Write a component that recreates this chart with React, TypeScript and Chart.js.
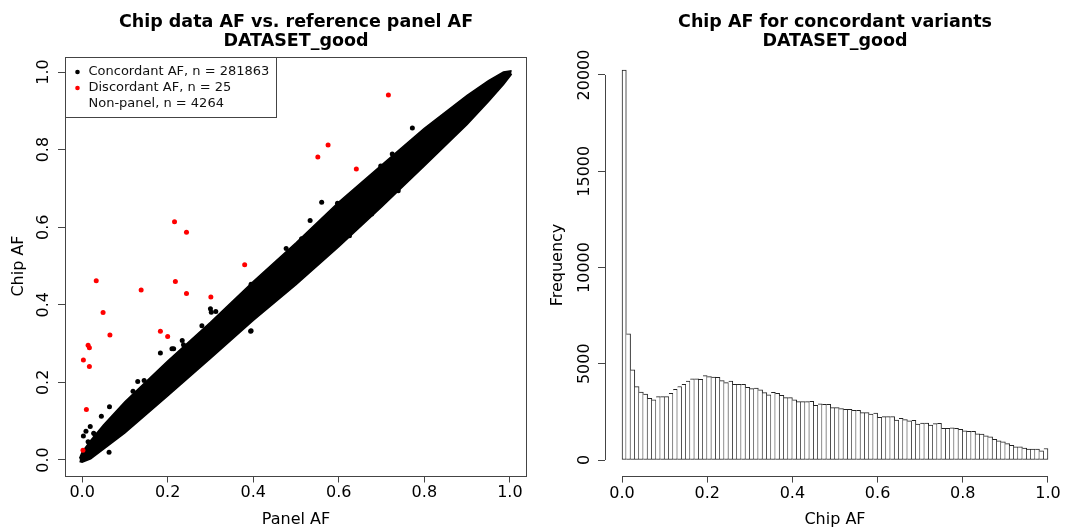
import React, { useEffect, useRef } from 'react';
import { Chart, registerables } from 'chart.js';

Chart.register(...registerables);

const FONT_FAMILY = "'DejaVu Sans', 'Liberation Sans', sans-serif";

// ---- Left panel: chip AF vs panel AF ----
const scatterTitle = ['Chip data AF vs. reference panel AF', 'DATASET_good'];
const scatterXLabel = 'Panel AF';
const scatterYLabel = 'Chip AF';
const afTicks = [0, 0.2, 0.4, 0.6, 0.8, 1.0];

// dense concordant band, upper / lower envelope
const bandX = [-0.006, 0.0, 0.02, 0.05, 0.1, 0.2, 0.3, 0.4, 0.5, 0.6, 0.7, 0.8, 0.9, 0.95, 0.985, 1.004];
const bandUpper = [0.004, 0.02, 0.05, 0.09, 0.15, 0.255, 0.355, 0.46, 0.56, 0.665, 0.76, 0.855, 0.94, 0.978, 1.0, 1.003];
const bandLower = [-0.004, -0.006, 0.003, 0.028, 0.07, 0.165, 0.262, 0.36, 0.452, 0.55, 0.652, 0.758, 0.865, 0.924, 0.968, 0.995];

// isolated concordant points outside the band
const concordantOutX = [0.063, 0.064, 0.045, 0.019, 0.009, 0.027, 0.03, 0.003, 0.014, 0.119, 0.13, 0.145, 0.097, 0.117, 0.183, 0.21, 0.214, 0.234, 0.237, 0.28, 0.3, 0.3125, 0.394, 0.56, 0.533, 0.477, 0.395, 0.513, 0.597, 0.686, 0.698, 0.725, 0.739, 0.677, 0.625, 0.395, 0.302, 0.414, 0.772, 0.8];
const concordantOutY = [0.02, 0.137, 0.113, 0.086, 0.074, 0.069, 0.065, 0.062, 0.047, 0.177, 0.202, 0.205, 0.132, 0.16, 0.276, 0.287, 0.287, 0.308, 0.297, 0.346, 0.39, 0.383, 0.332, 0.664, 0.617, 0.545, 0.453, 0.57, 0.662, 0.735, 0.758, 0.789, 0.694, 0.634, 0.578, 0.333, 0.381, 0.462, 0.856, 0.843];

// discordant points
const discordantX = [0.716, 0.551, 0.575, 0.641, 0.216, 0.244, 0.38, 0.033, 0.218, 0.244, 0.301, 0.138, 0.049, 0.065, 0.183, 0.2, 0.014, 0.017, 0.003, 0.017, 0.01, 0.002];
const discordantY = [0.941, 0.781, 0.812, 0.75, 0.614, 0.587, 0.503, 0.462, 0.46, 0.429, 0.42, 0.438, 0.38, 0.322, 0.332, 0.318, 0.296, 0.289, 0.258, 0.241, 0.13, 0.025];

const legendLabels = ['Concordant AF, n = 281863', 'Discordant AF, n = 25', 'Non-panel, n = 4264'];
const legendColors = ['#000000', '#ff0000', ''];

// ---- Right panel: histogram ----
const histTitle = ['Chip AF for concordant variants', 'DATASET_good'];
const histXLabel = 'Chip AF';
const histYLabel = 'Frequency';
const freqTicks = [0, 5000, 10000, 15000, 20000];
const binStart = 0;
const binWidth = 0.01;
const binCounts = [
  20260, 6550, 4680, 3810, 3530, 3430, 3200, 3120, 3290, 3290,
  3290, 3460, 3670, 3820, 3930, 4100, 4220, 4220, 4190, 4380,
  4330, 4310, 4290, 4120, 4020, 4100, 3930, 3930, 3930, 3770,
  3710, 3740, 3650, 3500, 3380, 3520, 3460, 3360, 3240, 3240,
  3130, 3030, 3030, 3030, 3050, 2840, 2920, 2890, 2890, 2720,
  2720, 2670, 2630, 2630, 2580, 2580, 2460, 2460, 2390, 2440,
  2220, 2250, 2250, 2250, 2080, 2160, 2100, 2040, 2060, 1870,
  1920, 1920, 1820, 1890, 1900, 1650, 1650, 1670, 1650, 1590,
  1520, 1490, 1490, 1360, 1350, 1260, 1210, 1070, 1000, 940,
  850, 760, 690, 680, 620, 570, 570, 570, 480, 600,
];

const AXIS_COLOR = '#444';

function titlePlugin(lines: string[]) {
  return {
    id: 'rTitle',
    afterDraw(chart: any) {
      const { ctx, chartArea } = chart;
      const cx = (chartArea.left + chartArea.right) / 2;
      ctx.save();
      ctx.fillStyle = '#000';
      ctx.font = `bold 17.5px ${FONT_FAMILY}`;
      ctx.textAlign = 'center';
      ctx.textBaseline = 'alphabetic';
      ctx.fillText(lines[0], cx, 27);
      ctx.fillText(lines[1], cx, 46);
      ctx.restore();
    },
  };
}

const boxPlugin = {
  id: 'rBox',
  afterDraw(chart: any) {
    const { ctx, chartArea } = chart;
    ctx.save();
    ctx.strokeStyle = AXIS_COLOR;
    ctx.lineWidth = 1;
    ctx.strokeRect(Math.round(chartArea.left) + 0.5, Math.round(chartArea.top) + 0.5,
      Math.round(chartArea.right - chartArea.left) - 1, Math.round(chartArea.bottom - chartArea.top));
    ctx.restore();
  },
};

const legendPlugin = {
  id: 'rLegend',
  afterDraw(chart: any) {
    const { ctx, chartArea } = chart;
    const left = Math.round(chartArea.left) + 0.5;
    const top = Math.round(chartArea.top) + 0.5;
    ctx.save();
    ctx.fillStyle = '#fff';
    ctx.fillRect(left, top, 211, 60);
    ctx.strokeStyle = AXIS_COLOR;
    ctx.lineWidth = 1;
    ctx.strokeRect(left, top, 211, 60);
    ctx.font = `13px ${FONT_FAMILY}`;
    ctx.textAlign = 'left';
    ctx.textBaseline = 'middle';
    legendLabels.forEach((label, i) => {
      const y = top + 14.5 + i * 16;
      if (legendColors[i]) {
        ctx.fillStyle = legendColors[i];
        ctx.beginPath();
        ctx.arc(left + 12, y, 2.3, 0, Math.PI * 2);
        ctx.fill();
      }
      ctx.fillStyle = '#111';
      ctx.fillText(label, left + 23, y);
    });
    ctx.restore();
  },
};

const histAxisPlugin = {
  id: 'rHistAxes',
  afterDraw(chart: any) {
    const { ctx, chartArea, scales } = chart;
    const x0 = scales.x.getPixelForValue(afTicks[0]);
    const x1 = scales.x.getPixelForValue(afTicks[afTicks.length - 1]);
    const y0 = scales.y.getPixelForValue(freqTicks[0]);
    const y1 = scales.y.getPixelForValue(freqTicks[freqTicks.length - 1]);
    ctx.save();
    ctx.strokeStyle = AXIS_COLOR;
    ctx.lineWidth = 1;
    const by = Math.round(chartArea.bottom) + 0.5;
    const lx = Math.round(chartArea.left) + 0.5;
    ctx.beginPath();
    ctx.moveTo(x0, by);
    ctx.lineTo(x1, by);
    ctx.moveTo(lx, y0);
    ctx.lineTo(lx, y1);
    ctx.stroke();
    ctx.restore();
  },
};

function tickGrid() {
  return { display: true, drawOnChartArea: false, drawTicks: true, tickLength: 7, color: AXIS_COLOR, lineWidth: 1 };
}

export default function App() {
  const leftRef = useRef<HTMLCanvasElement | null>(null);
  const rightRef = useRef<HTMLCanvasElement | null>(null);

  useEffect(() => {
    document.body.style.margin = '0';
    const font16 = { family: FONT_FAMILY, size: 16 };

    const left = new Chart(leftRef.current as HTMLCanvasElement, {
      type: 'scatter',
      data: {
        datasets: [
          {
            label: 'Discordant AF',
            data: discordantX.map((x, i) => ({ x, y: discordantY[i] })),
            backgroundColor: '#ff0000',
            borderWidth: 0,
            pointRadius: 2.5,
          },
          {
            label: 'Concordant AF (isolated)',
            data: concordantOutX.map((x, i) => ({ x, y: concordantOutY[i] })),
            backgroundColor: '#000',
            borderWidth: 0,
            pointRadius: 2.5,
          },
          {
            type: 'line',
            label: 'band lower',
            data: bandX.map((x, i) => ({ x, y: bandLower[i] })),
            borderColor: '#000',
            borderWidth: 1.5,
            pointRadius: 0,
            fill: false,
            tension: 0,
          } as any,
          {
            type: 'line',
            label: 'band upper',
            data: bandX.map((x, i) => ({ x, y: bandUpper[i] })),
            borderColor: '#000',
            backgroundColor: '#000',
            borderWidth: 1.5,
            pointRadius: 0,
            fill: 2,
            tension: 0,
          } as any,
        ],
      },
      options: {
        responsive: false,
        animation: false,
        devicePixelRatio: 1,
        layout: { padding: { top: 56.5, right: 5, bottom: 0, left: 0 } },
        plugins: { legend: { display: false }, tooltip: { enabled: false }, title: { display: false } },
        scales: {
          x: {
            type: 'linear',
            min: -0.04,
            max: 1.04,
            afterBuildTicks: (s: any) => { s.ticks = afTicks.map((v) => ({ value: v })); },
            afterFit: (s: any) => { s.height = 53.5; },
            grid: tickGrid(),
            border: { display: false },
            ticks: { color: '#000', font: font16, padding: 1.2, autoSkip: false, maxRotation: 0, callback: (v: any) => Number(v).toFixed(1) },
            title: { display: true, text: scatterXLabel, color: '#000', font: font16, padding: { top: 0, bottom: 0 } },
          },
          y: {
            type: 'linear',
            min: -0.04,
            max: 1.04,
            afterBuildTicks: (s: any) => { s.ticks = afTicks.map((v) => ({ value: v })); },
            afterFit: (s: any) => { s.width = 65; },
            grid: tickGrid(),
            border: { display: false },
            ticks: { color: '#000', font: font16, padding: 1.3, autoSkip: false, minRotation: 90, maxRotation: 90, crossAlign: 'center', callback: (v: any) => Number(v).toFixed(1) },
            title: { display: true, text: scatterYLabel, color: '#000', font: font16, padding: { top: 9.4, bottom: 0 } },
          },
        },
      } as any,
      plugins: [boxPlugin, legendPlugin, titlePlugin(scatterTitle)],
    });

    const right = new Chart(rightRef.current as HTMLCanvasElement, {
      type: 'bar',
      data: {
        datasets: [
          {
            label: 'Frequency',
            data: binCounts.map((c, i) => ({ x: binStart + (i + 0.5) * binWidth, y: c })),
            backgroundColor: '#fff',
            borderColor: '#222',
            borderWidth: 1,
            borderSkipped: (ctx: any) => (ctx.dataIndex === 0 ? false : 'left'),
            barPercentage: 1,
            categoryPercentage: 1,
          } as any,
        ],
      },
      options: {
        responsive: false,
        animation: false,
        devicePixelRatio: 1,
        layout: { padding: { top: 54.4, right: 0, bottom: 0, left: 0 } },
        plugins: { legend: { display: false }, tooltip: { enabled: false }, title: { display: false } },
        scales: {
          x: {
            type: 'linear',
            offset: false,
            min: -0.04,
            max: 1.04,
            afterBuildTicks: (s: any) => { s.ticks = afTicks.map((v) => ({ value: v })); },
            afterFit: (s: any) => { s.height = 53.4; },
            grid: { ...tickGrid(), offset: false },
            border: { display: false },
            ticks: { color: '#000', font: font16, padding: 1.2, autoSkip: false, maxRotation: 0, callback: (v: any) => Number(v).toFixed(1) },
            title: { display: true, text: histXLabel, color: '#000', font: font16, padding: { top: 0, bottom: 0 } },
          },
          y: {
            type: 'linear',
            min: -810,
            max: 21070,
            afterBuildTicks: (s: any) => { s.ticks = freqTicks.map((v) => ({ value: v })); },
            afterFit: (s: any) => { s.width = 73; },
            grid: tickGrid(),
            border: { display: false },
            ticks: { color: '#000', font: font16, padding: -12.4, autoSkip: false, minRotation: 90, maxRotation: 90, crossAlign: 'center', callback: (v: any) => String(v) },
            title: { display: true, text: histYLabel, color: '#000', font: font16, padding: { top: 16.4, bottom: 0 } },
          },
        },
      } as any,
      plugins: [histAxisPlugin, titlePlugin(histTitle)],
    });

    return () => {
      left.destroy();
      right.destroy();
    };
  }, []);

  return (
    <div style={{ position: 'fixed', left: 0, top: 0, width: 1065, height: 529, background: '#fff', overflow: 'hidden' }}>
      <canvas ref={leftRef} width={532} height={529} style={{ position: 'absolute', left: 0, top: 0, width: 532, height: 529 }} />
      <canvas ref={rightRef} width={533} height={529} style={{ position: 'absolute', left: 532, top: 0, width: 533, height: 529 }} />
    </div>
  );
}
